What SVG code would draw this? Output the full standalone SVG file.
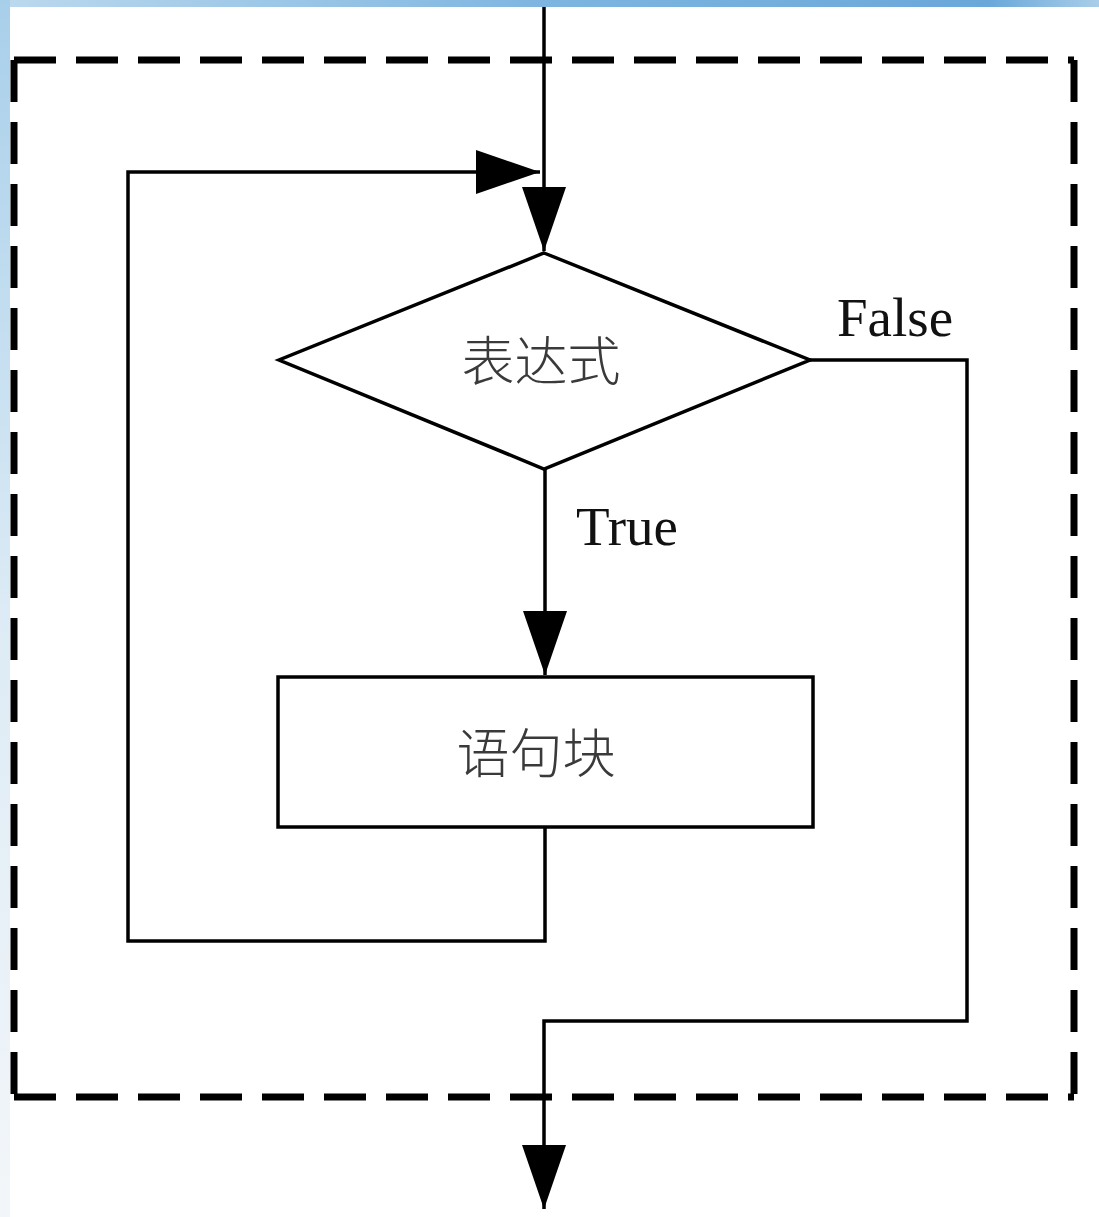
<svg xmlns="http://www.w3.org/2000/svg" width="1099" height="1217" viewBox="0 0 1099 1217">
<defs>
<linearGradient id="topg" x1="0" y1="0" x2="1" y2="0">
<stop offset="0" stop-color="#bcd9ee"/>
<stop offset="0.5" stop-color="#7db5e0"/>
<stop offset="0.9" stop-color="#6aa8da"/>
<stop offset="1" stop-color="#a9cde9"/>
</linearGradient>
<linearGradient id="leftg" x1="0" y1="0" x2="0" y2="1">
<stop offset="0" stop-color="#a8cfea"/>
<stop offset="0.5" stop-color="#dcebf5"/>
<stop offset="1" stop-color="#f3f6f9"/>
</linearGradient>
<marker id="ah" markerUnits="userSpaceOnUse" markerWidth="66" markerHeight="46" refX="64" refY="22" orient="auto">
<path d="M0,0 L64,22 L0,44 Z" fill="#000"/>
</marker>
<style>
.ln{fill:none;stroke:#000;stroke-width:3.5}
.dash{fill:none;stroke:#000;stroke-width:7;stroke-dasharray:42 20}
.cjk{font-family:"Noto Sans CJK SC",sans-serif;font-size:53px;fill:#3a3a3a;text-anchor:middle;font-weight:300}
.lbl{font-family:"Liberation Serif",serif;font-size:55px;fill:#111}
</style>
</defs>
<rect x="0" y="0" width="1099" height="1217" fill="#fff"/>
<rect x="0" y="0" width="1099" height="7" fill="url(#topg)"/>
<rect x="0" y="0" width="10" height="1217" fill="url(#leftg)"/>
<g id="frame">
<path class="dash" d="M14,60 H1074"/>
<path class="dash" d="M14,60 V1097"/>
<path class="dash" d="M1074,60 V1097"/>
<path class="dash" d="M14,1097 H1074"/>
</g>
<g id="connectors">
<path class="ln" d="M544,7 V251" marker-end="url(#ah)"/>
<path class="ln" d="M545,469 V675" marker-end="url(#ah)"/>
<path class="ln" d="M545,827 V941 H128 V172 H540" marker-end="url(#ah)"/>
<path class="ln" d="M810,360 H967 V1021 H544 V1209" marker-end="url(#ah)"/>
</g>
<g id="cond">
<path class="ln" d="M544,253 L810,360 L544,469 L279,360 Z" fill="#fff"/>
<text class="cjk" x="541" y="381">表达式</text>
</g>
<g id="block">
<rect class="ln" x="278" y="677" width="535" height="150" fill="#fff"/>
<text class="cjk" x="536" y="773">语句块</text>
</g>
<g id="labels">
<text class="lbl" x="837" y="336">False</text>
<text class="lbl" x="576" y="545">True</text>
</g>
</svg>
